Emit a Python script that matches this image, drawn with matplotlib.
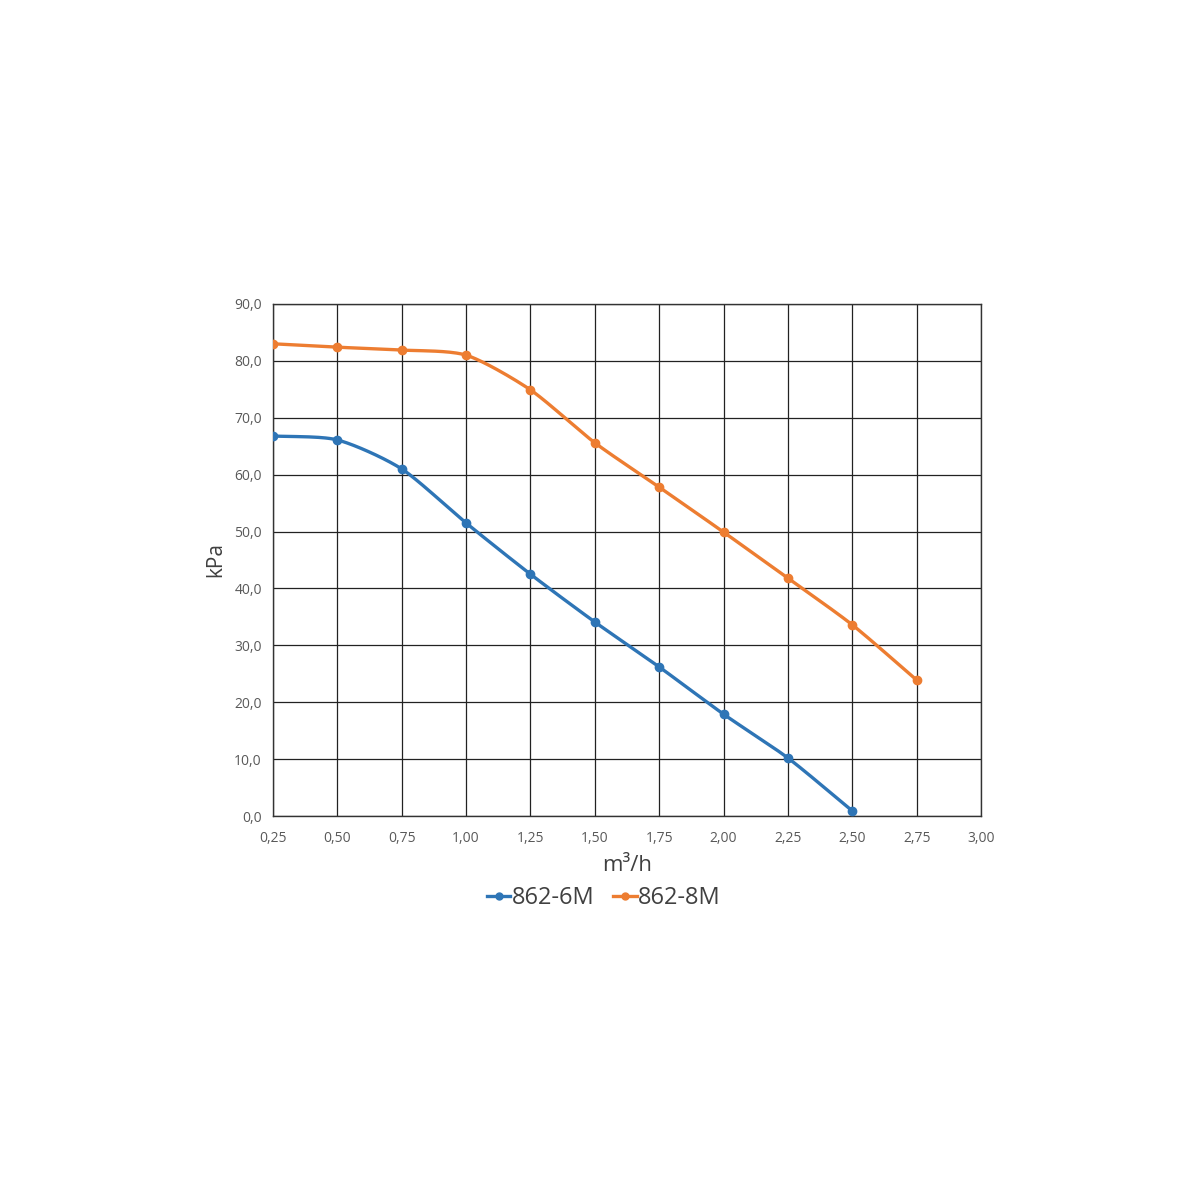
import numpy as np
import matplotlib
matplotlib.use("Agg")
import matplotlib.pyplot as plt
from matplotlib.ticker import FuncFormatter

flow = [0.25, 0.50, 0.75, 1.00, 1.25, 1.50, 1.75, 2.00, 2.25, 2.50, 2.75]
p_6m = [66.8, 66.1, 61.0, 51.5, 42.5, 34.1, 26.2, 17.9, 10.2, 0.9]
p_8m = [83.0, 82.4, 81.9, 81.0, 74.9, 65.6, 57.8, 49.9, 41.8, 33.6, 23.9]
x_ticks = [0.25, 0.50, 0.75, 1.00, 1.25, 1.50, 1.75, 2.00, 2.25, 2.50, 2.75, 3.00]
y_ticks = [0, 10, 20, 30, 40, 50, 60, 70, 80, 90]

blue = '#2E75B6'
orange = '#ED7D31'


def smooth(x, y, n=30):
    # catmull-rom style smoothing like excel's smoothed lines
    x = np.asarray(x, float)
    y = np.asarray(y, float)
    px = np.concatenate([[2 * x[0] - x[1]], x, [2 * x[-1] - x[-2]]])
    py = np.concatenate([[2 * y[0] - y[1]], y, [2 * y[-1] - y[-2]]])
    xs, ys = [], []
    t = np.linspace(0, 1, n)
    for i in range(1, len(px) - 2):
        p0, p1, p2, p3 = [np.array([px[j], py[j]]) for j in range(i - 1, i + 3)]
        m1 = (p2 - p0) / 2 * 0.75
        m2 = (p3 - p1) / 2 * 0.75
        h00 = 2 * t**3 - 3 * t**2 + 1
        h10 = t**3 - 2 * t**2 + t
        h01 = -2 * t**3 + 3 * t**2
        h11 = t**3 - t**2
        pts = (np.outer(h00, p1) + np.outer(h10, m1) + np.outer(h01, p2) + np.outer(h11, m2))
        xs.extend(pts[:, 0])
        ys.extend(pts[:, 1])
    return xs, ys


plt.rcParams['font.family'] = ['Open Sans', 'DejaVu Sans']

fig = plt.figure(figsize=(12, 12), dpi=100)
ax = fig.add_axes([0.2275, 0.32, 0.59, 0.4267])

for xs, ys, c, lab in [(flow[:len(p_6m)], p_6m, blue, '862-6M'),
                       (flow, p_8m, orange, '862-8M')]:
    sx, sy = smooth(xs, ys)
    ax.plot(sx, sy, color=c, lw=2.4, solid_capstyle='round', zorder=3)
    ax.plot(xs, ys, 'o', color=c, ms=6, zorder=4)
    ax.plot([], [], '-o', color=c, lw=2.4, ms=5, label=lab)

ax.set_xlim(0.25, 3.0)
ax.set_ylim(0, 90)
ax.set_xticks(x_ticks)
ax.set_yticks(y_ticks)
ax.xaxis.set_major_formatter(FuncFormatter(lambda v, p: f"{v:.2f}".replace('.', ',')))
ax.yaxis.set_major_formatter(FuncFormatter(lambda v, p: f"{v:.1f}".replace('.', ',')))
ax.tick_params(axis='y', length=0, labelsize=10, colors='#595959', pad=8)
ax.tick_params(axis='x', length=0, labelsize=10, colors='#595959', pad=11)
ax.grid(True, color='#222222', lw=0.9)
ax.set_axisbelow(True)
for s in ax.spines.values():
    s.set_color('#333333')
    s.set_linewidth(1.0)

ax.set_ylabel('kPa', fontsize=15, color='#404040', labelpad=6)
ax.set_xlabel('m³/h', fontsize=16, color='#404040', labelpad=6)

leg = ax.legend(loc='upper center', bbox_to_anchor=(0.467, -0.095), ncol=2, frameon=False,
                fontsize=17, handlelength=1.0, handletextpad=0.05, columnspacing=0.8,
                labelcolor='#404040')

fig.savefig('out.png', dpi=100)
